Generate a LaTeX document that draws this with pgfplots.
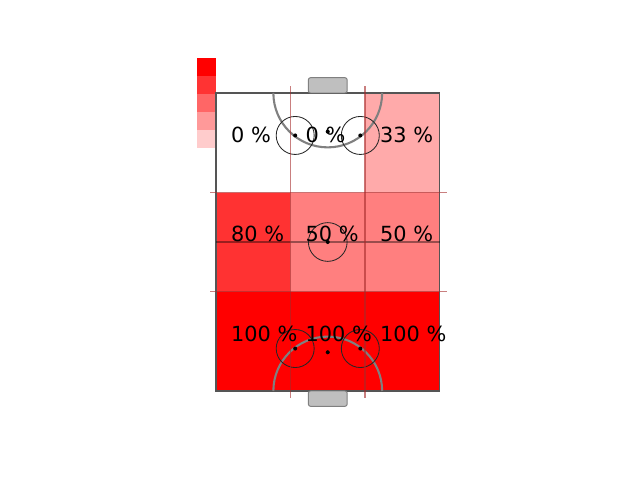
\documentclass[border=0pt]{standalone}
\usepackage{pgfplots}
\pgfplotsset{compat=1.18}
\usepackage{pgfplotstable}
\usepackage{fontspec}
\newfontfamily\dejavu{DejaVu Sans}
\definecolor{divider}{RGB}{165,42,42}
\definecolor{rinkedge}{RGB}{85,85,85}
\definecolor{arcgray}{RGB}{128,128,128}
\definecolor{goalfill}{RGB}{191,191,191}

% cell left edge, row centre, percentage
\pgfplotstableread[col sep=comma]{
x,y,pct
0,6.6667,100
10,6.6667,100
20,6.6667,100
0,20,80
10,20,50
20,20,50
0,33.3333,0
10,33.3333,0
20,33.3333,33
}\zones

\begin{document}
\begin{tikzpicture}
\useasboundingbox (0,0) rectangle (460.8bp,345.6bp);
\begin{axis}[
  at={(0,0)}, anchor=south west,
  scale only axis, width=460.8bp, height=345.6bp,
  xmin=-28.993, xmax=56.913, ymin=-11.946, ymax=52.483,
  hide axis, clip=false,
  colormap={wr}{rgb255=(255,255,255) rgb255=(255,0,0)},
  point meta min=0, point meta max=100,
]
% heat cells
\addplot[matrix plot*, mesh/cols=3, mesh/rows=3, point meta=explicit, draw=none, shader=flat corner]
  table[x expr=\thisrow{x}+5, y=y, meta=pct] {\zones};

% colour key
\addplot[draw=none, fill=red, forget plot] coordinates {(-2.55,42.28) (0,42.28) (0,44.70) (-2.55,44.70)} --cycle;
\addplot[draw=none, fill=red!80!white, forget plot] coordinates {(-2.55,39.87) (0,39.87) (0,42.28) (-2.55,42.28)} --cycle;
\addplot[draw=none, fill=red!60!white, forget plot] coordinates {(-2.55,37.45) (0,37.45) (0,39.87) (-2.55,39.87)} --cycle;
\addplot[draw=none, fill=red!40!white, forget plot] coordinates {(-2.55,35.03) (0,35.03) (0,37.45) (-2.55,37.45)} --cycle;
\addplot[draw=none, fill=red!20!white, forget plot] coordinates {(-2.55,32.62) (0,32.62) (0,35.03) (-2.55,35.03)} --cycle;

% rink outline
\draw[rinkedge, line width=0.8bp] (axis cs:0,0) rectangle (axis cs:30,40);
% centre line
\draw[black, opacity=0.4, line width=0.9bp] (axis cs:0,20) -- (axis cs:30,20);
% goals
\draw[arcgray, fill=goalfill, line width=0.7bp, rounded corners=1.5bp] (axis cs:12.4,40) rectangle (axis cs:17.6,42.05);
\draw[arcgray, fill=goalfill, line width=0.7bp, rounded corners=1.5bp] (axis cs:12.4,0) rectangle (axis cs:17.6,-2.05);
% goal creases
\draw[arcgray, line width=1.5bp] (axis cs:7.7,40) arc[start angle=180, end angle=360, radius=7.3];
\draw[arcgray, line width=1.5bp] (axis cs:7.7,0) arc[start angle=180, end angle=0, radius=7.3];
% face-off circles
\draw[black!85, line width=0.6bp] (axis cs:10.63,34.3) circle[radius=2.55];
\draw[black!85, line width=0.6bp] (axis cs:19.37,34.3) circle[radius=2.55];
\draw[black!85, line width=0.6bp] (axis cs:10.63,5.7) circle[radius=2.55];
\draw[black!85, line width=0.6bp] (axis cs:19.37,5.7) circle[radius=2.55];
\draw[black!85, line width=0.6bp] (axis cs:15,20) circle[radius=2.6];
\fill[black] (axis cs:10.63,34.3) circle[radius=0.27];
\fill[black] (axis cs:19.37,34.3) circle[radius=0.27];
\fill[black] (axis cs:10.63,5.7) circle[radius=0.27];
\fill[black] (axis cs:19.37,5.7) circle[radius=0.27];
\fill[black] (axis cs:15,20) circle[radius=0.27];
\fill[black] (axis cs:15,34.8) circle[radius=0.27];
\fill[black] (axis cs:15,5.2) circle[radius=0.27];
% zone dividers
\draw[divider, opacity=0.6, line width=0.75bp] (axis cs:-0.8,13.333) -- (axis cs:31.05,13.333);
\draw[divider, opacity=0.6, line width=0.75bp] (axis cs:-0.8,26.667) -- (axis cs:31.05,26.667);
\draw[divider, opacity=0.6, line width=0.75bp] (axis cs:10,-0.9) -- (axis cs:10,40.9);
\draw[divider, opacity=0.6, line width=0.75bp] (axis cs:20,-0.9) -- (axis cs:20,40.9);

% percentage labels
\addplot[draw=none, mark=none, point meta=explicit symbolic,
  nodes near coords={\pgfplotspointmeta{} \%},
  nodes near coords style={anchor=base west, inner sep=0pt, black,
    font=\dejavu\fontsize{15bp}{18bp}\selectfont}]
  table[x expr=\thisrow{x}+2, y=y, meta=pct] {\zones};
\end{axis}
\end{tikzpicture}
\end{document}
